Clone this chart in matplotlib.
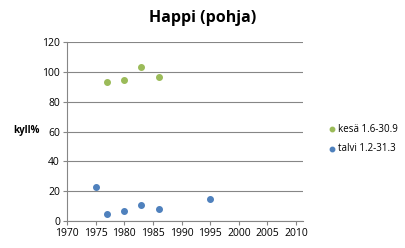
import matplotlib.pyplot as plt

# Summer and winter bottom oxygen saturation
kesa_years = [1977, 1980, 1983, 1986]
kesa_vals = [93.5, 94.8, 103.3, 96.7]
talvi_years = [1975, 1977, 1980, 1983, 1986, 1995]
talvi_vals = [22.8, 4.8, 6.7, 10.8, 8.0, 14.8]

x_ticks = list(range(1970, 2011, 5))
y_ticks = list(range(0, 121, 20))

plt.rcParams['font.family'] = ['Open Sans', 'DejaVu Sans']

fig = plt.figure(figsize=(4.06, 2.48), dpi=100)
ax = fig.add_axes([67 / 406, 1 - 221 / 248, (303 - 67) / 406, (221 - 42) / 248])

ax.scatter(kesa_years, kesa_vals, s=16, color='#9BBB59', label='kesä 1.6-30.9', zorder=3)
ax.scatter(talvi_years, talvi_vals, s=16, color='#4F81BD', label='talvi 1.2-31.3', zorder=3)

ax.set_xlim(1970, 1970 + (303 - 67) / (229 / 40))
ax.set_ylim(0, 120)
ax.set_xticks(x_ticks)
ax.set_yticks(y_ticks)
ax.tick_params(labelsize=7.5, length=3, color='#868686', width=0.8, pad=2)
ax.grid(axis='y', color='#868686', linewidth=0.8)
ax.set_axisbelow(True)
for side in ['top', 'right']:
    ax.spines[side].set_visible(False)
for side in ['left', 'bottom']:
    ax.spines[side].set_color('#868686')

fig.text(0.5, 1 - 18 / 248, 'Happi (pohja)', ha='center', va='center',
         fontsize=11.5, fontweight='bold')
fig.text(13 / 406, 1 - 131 / 248, 'kyll%', ha='left', va='center',
         fontsize=7, fontweight='bold')

fig.legend(loc='center left', bbox_to_anchor=(322 / 406, 1 - 139 / 248),
           frameon=False, fontsize=7, handletextpad=0.1, markerscale=0.8,
           labelspacing=0.9, borderpad=0, handlelength=1)

fig.savefig('out.png', dpi=100)
